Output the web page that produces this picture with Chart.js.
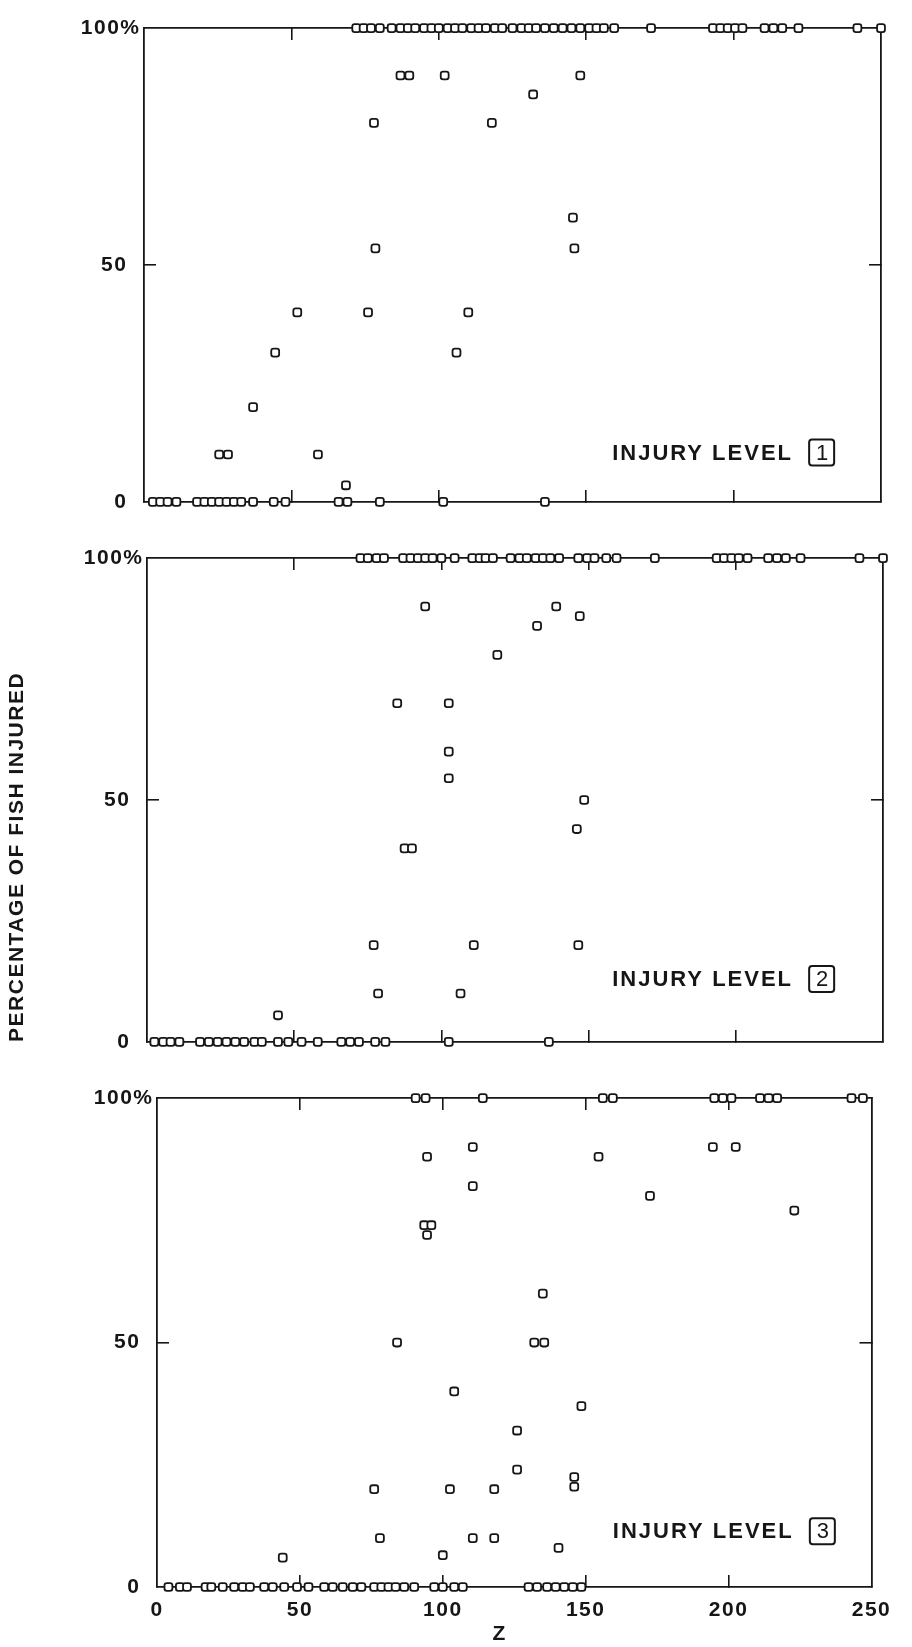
<!DOCTYPE html>
<html>
<head>
<meta charset="utf-8">
<script src="https://cdn.jsdelivr.net/npm/chart.js@4.4.1/dist/chart.umd.min.js"></script>
<style>
  html, body { margin: 0; padding: 0; background: #fff; }
  body { width: 912px; height: 1647px; position: relative; overflow: hidden; }
  canvas { position: absolute; left: 0; }
</style>
</head>
<body>
<canvas id="level1" width="912" height="530" style="top:0px"></canvas>
<canvas id="level2" width="912" height="540" style="top:530px"></canvas>
<canvas id="level3" width="912" height="577" style="top:1070px"></canvas>
<script>
// Z values of the tests that gave 100 % injured, 0 % injured, and the in-between ones
const level1Full = [72, 74.5, 77, 80, 84, 87, 89.5, 92, 95, 97.5, 100, 103, 105.5, 108, 111, 113.5, 116, 119, 121.5,
  125, 128, 130.5, 133, 136, 139, 142, 145, 148, 151, 153.5, 156, 159.5, 172, 193, 195.5, 198, 200.5, 203,
  210.5, 213.5, 216.5, 222, 242, 250];
const level1None = [3, 5.5, 8, 11, 18, 20.5, 23, 25.5, 28, 30.5, 33, 37, 44, 48, 66, 69, 80, 101.5, 136];
const level1MidZ = [87, 90, 102, 148, 132, 78, 118, 145.5, 78.5, 146, 52, 76, 110, 44.5, 106, 37, 25.5, 28.5, 59, 68.5];
const level1MidPct = [90, 90, 90, 90, 86, 80, 80, 60, 53.5, 53.5, 40, 40, 40, 31.5, 31.5, 20, 10, 10, 10, 3.5];

const level2Full = [72.5, 75, 78, 80.5, 87, 89.5, 92, 94.5, 97, 100, 104.5, 110.5, 113, 115, 117.5, 123.5, 126.5,
  129, 132, 134.5, 137, 140, 146.5, 149.5, 152, 156, 159.5, 172.5, 193.5, 196, 198.5, 201, 204, 211, 214, 217,
  222, 242, 250];
const level2None = [2.5, 5.5, 8, 11, 18, 21, 24, 27, 30, 33, 36.5, 39, 44.5, 48, 52.5, 58, 66, 69, 72, 77.5, 81, 102.5, 136.5];
const level2MidZ = [94.5, 139, 147, 132.5, 119, 85, 102.5, 102.5, 102.5, 148.5, 146, 87.5, 90, 77, 111, 146.5, 78.5, 106.5, 44.5];
const level2MidPct = [90, 90, 88, 86, 80, 70, 70, 60, 54.5, 50, 44, 40, 40, 20, 20, 20, 10, 10, 5.5];

const level3Full = [90.5, 94, 114, 156, 159.5, 195, 198, 201, 211, 214, 217, 243, 247];
const level3None = [4, 8, 10.5, 17, 19, 23, 27, 30, 32.5, 37.5, 40.5, 44.5, 49, 53, 58.5, 61.5, 65, 68.5, 71.5, 76,
  78.5, 81, 83.5, 86.5, 90, 97, 100, 104, 107, 130, 133, 136.5, 139.5, 142.5, 145.5, 148.5];
const level3MidZ = [110.5, 194.5, 202.5, 94.5, 154.5, 110.5, 172.5, 223, 93.5, 96, 94.5, 135, 84, 132, 135.5, 104,
  148.5, 126, 126, 146, 146, 76, 102.5, 118, 78, 110.5, 118, 140.5, 100, 44];
const level3MidPct = [90, 90, 90, 88, 88, 82, 80, 77, 74, 74, 72, 60, 50, 50, 50, 40, 37, 32, 24, 22.5, 20.5, 20,
  20, 20, 10, 10, 10, 8, 6.5, 6];

const zTicks = [0, 50, 100, 150, 200, 250];
const pctTicks = [0, 50, 100];

const ink = '#161616';
const family = '"Liberation Sans", Arial, Helvetica, sans-serif';

function toPoints(full, none, midZ, midPct) {
  return [
    ...full.map(z => ({ x: z, y: 100 })),
    ...none.map(z => ({ x: z, y: 0 })),
    ...midZ.map((z, i) => ({ x: z, y: midPct[i] }))
  ];
}

// the scan's lettering is a bit spaced out
const spacing = {
  id: 'spacing',
  beforeDraw(chart) { chart.ctx.letterSpacing = '1.5px'; },
  afterDraw(chart) { chart.ctx.letterSpacing = '0px'; }
};

// "INJURY LEVEL [n]" note inside each panel
const levelLabel = {
  id: 'levelLabel',
  afterDatasetsDraw(chart, args, opts) {
    const { ctx, scales: { x, y } } = chart;
    const left = x.getPixelForValue(opts.z);
    const mid = y.getPixelForValue(opts.pct);
    ctx.save();
    ctx.letterSpacing = '2px';
    ctx.font = 'bold 22px ' + family;
    ctx.fillStyle = ink;
    ctx.textBaseline = 'middle';
    ctx.textAlign = 'left';
    ctx.fillText('INJURY LEVEL', left, mid);
    const bx = left + 197, bw = 25, bh = 26;
    ctx.strokeStyle = ink;
    ctx.lineWidth = 2;
    ctx.beginPath();
    ctx.roundRect(bx, mid - bh / 2 - 1, bw, bh, 3);
    ctx.stroke();
    ctx.letterSpacing = '0px';
    ctx.font = '22px ' + family;
    ctx.textAlign = 'center';
    ctx.fillText(String(opts.level), bx + bw / 2 + 0.5, mid);
    ctx.restore();
  }
};

// short tick marks pointing into the frame, none at the corners
const innerTicks = (lo, hi) => ({
  drawOnChartArea: false,
  drawTicks: true,
  tickLength: -12,
  lineWidth: 1.6,
  color: c => (c.tick && (c.tick.value === lo || c.tick.value === hi)) ? 'rgba(0,0,0,0)' : ink
});
const frame = { display: true, color: ink, width: 1.8 };
const boldFont = { family: family, size: 21, weight: 'bold' };

function makePanel(id, pts, p) {
  return new Chart(document.getElementById(id), {
    type: 'scatter',
    data: {
      datasets: [{
        data: pts,
        pointStyle: 'rectRounded',
        pointRadius: 4.6,
        pointBorderWidth: 1.8,
        pointBorderColor: ink,
        pointBackgroundColor: '#fff',
        clip: false
      }]
    },
    options: {
      responsive: false,
      animation: false,
      events: [],
      layout: { padding: { left: 0, top: p.top, right: 912 - p.right, bottom: 0 } },
      plugins: {
        legend: { display: false },
        tooltip: { enabled: false },
        levelLabel: p.label
      },
      scales: {
        x: {
          type: 'linear', position: 'bottom', min: zTicks[0], max: zTicks[zTicks.length - 1],
          afterBuildTicks: s => { s.ticks = zTicks.map(v => ({ value: v })); },
          ticks: { display: p.showZ, padding: 23, color: ink, font: boldFont },
          grid: innerTicks(0, 250),
          border: frame,
          title: { display: p.showZ, text: 'Z    ', color: ink, font: boldFont, padding: { top: 0, bottom: 0 } },
          afterFit: s => { s.height = p.bottomH; }
        },
        xTop: {
          type: 'linear', position: 'top', min: zTicks[0], max: zTicks[zTicks.length - 1],
          afterBuildTicks: s => { s.ticks = zTicks.map(v => ({ value: v })); },
          ticks: { display: false },
          grid: innerTicks(0, 250),
          border: frame,
          afterFit: s => { s.height = 0; }
        },
        y: {
          type: 'linear', position: 'left', min: 0, max: 100,
          afterBuildTicks: s => { s.ticks = pctTicks.map(v => ({ value: v })); },
          ticks: {
            padding: 15.5, color: ink, font: boldFont,
            callback: v => v === 100 ? '100%' : v + '\u2007'
          },
          grid: innerTicks(0, 100),
          border: frame,
          title: {
            display: p.yTitle, text: 'PERCENTAGE OF FISH INJURED', align: 'start',
            color: ink, font: boldFont, padding: { top: 5, bottom: 0 }
          },
          afterFit: s => { s.width = p.left; }
        },
        yRight: {
          type: 'linear', position: 'right', min: 0, max: 100,
          afterBuildTicks: s => { s.ticks = pctTicks.map(v => ({ value: v })); },
          ticks: { display: false },
          grid: innerTicks(0, 100),
          border: frame,
          afterFit: s => { s.width = 0; }
        }
      }
    },
    plugins: [spacing, levelLabel]
  });
}

makePanel('level1', toPoints(level1Full, level1None, level1MidZ, level1MidPct), {
  top: 14, left: 144, right: 881, bottomH: 26, showZ: false, yTitle: false,
  label: { level: 1, z: 158.8, pct: 10.2 }
});
makePanel('level2', toPoints(level2Full, level2None, level2MidZ, level2MidPct), {
  top: 24, left: 147, right: 883, bottomH: 25, showZ: false, yTitle: true,
  label: { level: 2, z: 158, pct: 12.8 }
});
makePanel('level3', toPoints(level3Full, level3None, level3MidZ, level3MidPct), {
  top: 26, left: 157, right: 889, bottomH: 60, showZ: true, yTitle: false,
  label: { level: 3, z: 159.5, pct: 11.2 }
});
</script>
</body>
</html>
